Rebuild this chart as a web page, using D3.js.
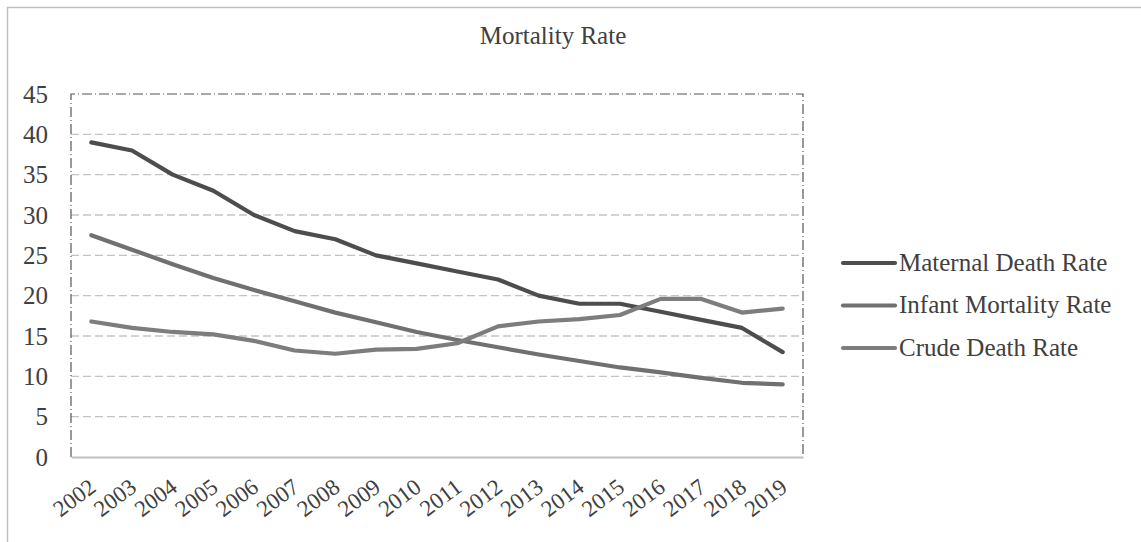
<!DOCTYPE html>
<html><head><meta charset="utf-8">
<script src="https://cdn.jsdelivr.net/npm/d3@7"></script>
<style>body{margin:0;background:#fff}svg{display:block}</style>
</head><body>
<svg id="c" width="1141" height="542"></svg>
<script>
const years = ["2002","2003","2004","2005","2006","2007","2008","2009","2010","2011","2012","2013","2014","2015","2016","2017","2018","2019"];
const maternal = [39,38,35,33,30,28,27,25,24,23,22,20,19,19,18,17,16,13];
const infant = [27.5,25.7,23.9,22.2,20.7,19.3,17.9,16.7,15.5,14.5,13.6,12.7,11.9,11.1,10.5,9.8,9.2,9.0];
const crude = [16.8,16.0,15.5,15.2,14.4,13.2,12.8,13.3,13.4,14.1,16.2,16.8,17.1,17.6,19.6,19.6,17.9,18.4];
const yTicks = [0,5,10,15,20,25,30,35,40,45];
const seriesNames = ["Maternal Death Rate","Infant Mortality Rate","Crude Death Rate"];
const seriesColors = ["#4d4d4d","#707070","#7d7d7d"];
const seriesData = [maternal, infant, crude];

const svg = d3.select("#c");
const font = "'Liberation Serif','Times New Roman',serif";
const L = 71, R = 803, T = 94, B = 457;

// outer border
svg.append("rect").attr("x",7.5).attr("y",7.5).attr("width",1160).attr("height",560)
  .attr("fill","none").attr("stroke","#bfbfbf").attr("stroke-width",1.5);

const x = d3.scaleBand().domain(years).range([L,R]);
const y = d3.scaleLinear().domain([0,45]).range([B,T]);

// gridlines
svg.append("g").selectAll("line").data(yTicks.filter(t=>t>0 && t<45)).join("line")
  .attr("x1",L).attr("x2",R).attr("y1",d=>y(d)).attr("y2",d=>y(d))
  .attr("stroke","#c3c3c3").attr("stroke-width",1.3).attr("stroke-dasharray","8,4");

// plot border dash-dot (left, top, right)
svg.append("path").attr("d",`M${L},${B}V${T}H${R}V${B}`)
  .attr("fill","none").attr("stroke","#555").attr("stroke-width",1.2)
  .attr("stroke-dasharray","10,3,1,3");

// x axis
const xAxis = svg.append("g").attr("transform",`translate(0,${B})`)
  .call(d3.axisBottom(x).tickSize(0).tickPadding(0));
xAxis.select(".domain").attr("stroke","#bfbfbf").attr("stroke-width",2);
xAxis.selectAll("text").attr("font-family",font).attr("font-size",23).attr("fill","#404040")
  .attr("text-anchor","end").attr("dy",null).attr("y",null)
  .attr("transform","translate(6,33) rotate(-37)");

// y axis
const yAxis = svg.append("g").attr("transform",`translate(${L},0)`)
  .call(d3.axisLeft(y).tickValues(yTicks).tickSize(0).tickPadding(23));
yAxis.select(".domain").remove();
yAxis.selectAll("text").attr("font-family",font).attr("font-size",25).attr("fill","#404040");

// lines
const line = d3.line().x((d,i)=>x(years[i])+x.bandwidth()/2).y(d=>y(d));
seriesData.forEach((s,i)=>{
  svg.append("path").datum(s).attr("d",line).attr("fill","none")
    .attr("stroke",seriesColors[i]).attr("stroke-width",4.2)
    .attr("stroke-linecap","round").attr("stroke-linejoin","round");
});

// title
svg.append("text").attr("x",553).attr("y",44).attr("text-anchor","middle")
  .attr("font-family",font).attr("font-size",25).attr("fill","#404040").text("Mortality Rate");

// legend
const lg = svg.append("g");
seriesNames.forEach((n,i)=>{
  const yy = 263 + i*42.5;
  lg.append("line").attr("x1",843).attr("x2",895).attr("y1",yy).attr("y2",yy)
    .attr("stroke",seriesColors[i]).attr("stroke-width",4.2).attr("stroke-linecap","round");
  lg.append("text").attr("x",899).attr("y",yy).attr("dy","0.3em")
    .attr("font-family",font).attr("font-size",25).attr("fill","#404040").text(n);
});
</script>
</body></html>
